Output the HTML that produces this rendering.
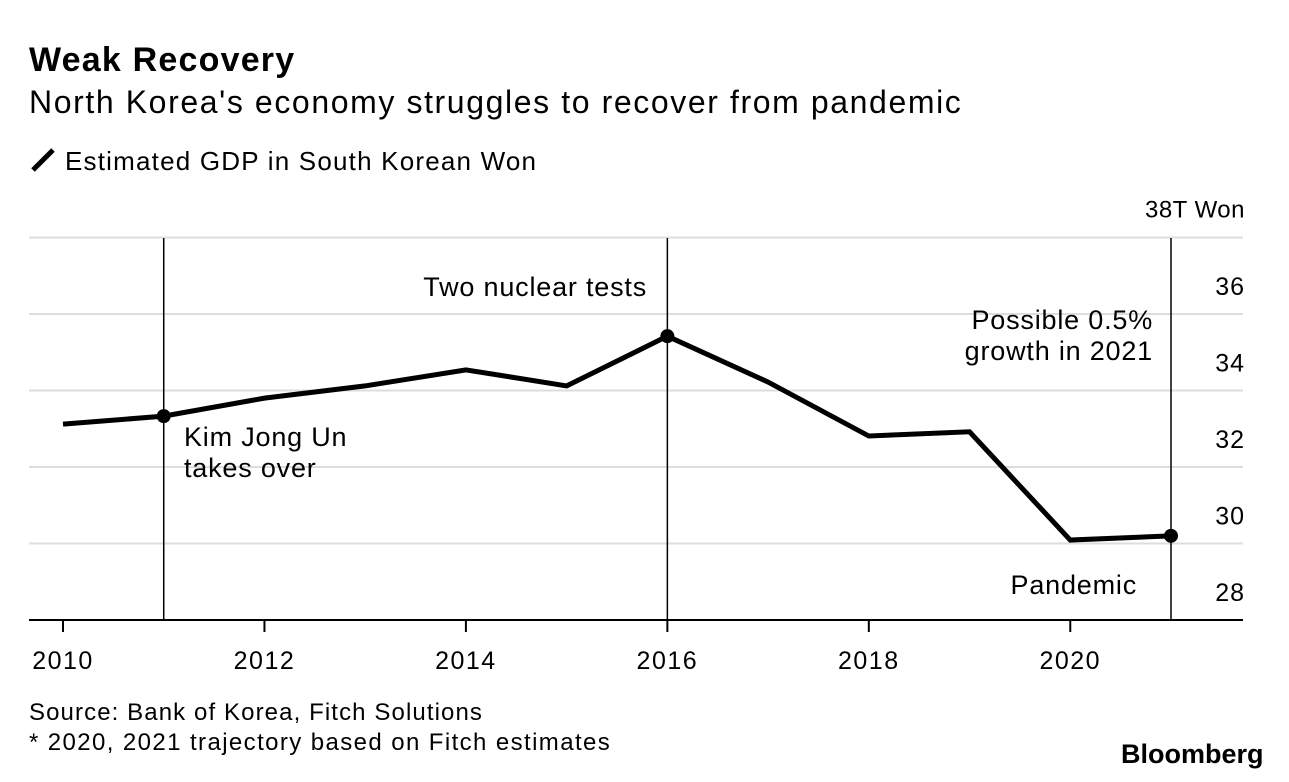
<!DOCTYPE html>
<html><head><meta charset="utf-8"><style>
body{margin:0;width:1289px;height:782px;background:#fff;font-family:"Liberation Sans",sans-serif;color:#000;overflow:hidden}
.t{position:absolute;white-space:nowrap}
</style></head><body>
<div class="t" style="left:29px;top:41px;font-size:34px;font-weight:bold;letter-spacing:1.2px">Weak Recovery</div>
<div class="t" style="left:29px;top:84px;font-size:32px;letter-spacing:1.6px">North Korea's economy struggles to recover from pandemic</div>
<div class="t" style="left:29px;top:146px;font-size:26px;letter-spacing:1.2px"><svg width="28" height="28" style="vertical-align:-4px;margin-right:8px"><line x1="4" y1="24" x2="24" y2="4" stroke="#000" stroke-width="5"/></svg>Estimated GDP in South Korean Won</div>
<svg id="c" width="1289" height="782" style="position:absolute;left:0;top:0"></svg>
<div class="t" style="left:29px;top:699px;font-size:24px;letter-spacing:1.1px">Source: Bank of Korea, Fitch Solutions</div>
<div class="t" style="left:29px;top:729px;font-size:24px;letter-spacing:1.4px">* 2020, 2021 trajectory based on Fitch estimates</div>
<div class="t" style="left:1121px;top:739px;font-size:27px;font-weight:bold;letter-spacing:0px">Bloomberg</div>
<script>
const years=[2010,2011,2012,2013,2014,2015,2016,2017,2018,2019,2020,2021];
const gdp=[33.12,33.33,33.8,34.12,34.54,34.12,35.42,34.22,32.81,32.92,30.09,30.2];
const yTicks=[28,30,32,34,36,38];
const xTicks=[2010,2012,2014,2016,2018,2020];
const markers=[2011,2016,2021];
const ns="http://www.w3.org/2000/svg",svg=document.getElementById('c');
const X=v=>63+(v-2010)*(1171-63)/11;
const Y=v=>620-(v-28)*38.25;
function el(t,a,txt){const e=document.createElementNS(ns,t);for(const k in a)e.setAttribute(k,a[k]);if(txt!=null)e.textContent=txt;svg.appendChild(e);return e;}
yTicks.forEach(v=>{
 if(v>28){const g=el('line',{x1:29,x2:1243,y1:Y(v),y2:Y(v),stroke:'#ddd','stroke-width':2});
 
 }
 if(v<38){const t=el('text',{x:1245,y:Y(v)-19,'text-anchor':'end','font-size':25,'letter-spacing':1},String(v));
 
 }
});
const u=el('text',{x:1245,y:Y(38)-20,'text-anchor':'end','font-size':24,'letter-spacing':0.5},'38T Won');


const ax=el('line',{x1:29,x2:1243,y1:620,y2:620,stroke:'#000','stroke-width':2});


xTicks.forEach(v=>{
 const tk=el('line',{x1:X(v),x2:X(v),y1:620,y2:632,stroke:'#000','stroke-width':2});
 
 
 const t=el('text',{x:X(v),y:669,'text-anchor':'middle','font-size':25,'letter-spacing':1.5},String(v));
 
 
});
markers.forEach(v=>{
 const l=el('line',{x1:X(v),x2:X(v),y1:238,y2:620,stroke:'#000','stroke-width':1.5});
 
 
});
const p=el('polyline',{points:years.map((y,i)=>X(y)+','+Y(gdp[i])).join(' '),fill:'none',stroke:'#000','stroke-width':5,'stroke-linejoin':'miter'});


markers.forEach(v=>{
 const i=years.indexOf(v);
 const c=el('circle',{cx:X(v),cy:Y(gdp[i]),r:7,fill:'#000'});
 
 
});
const anns=[[184,446,'start','Kim Jong Un'],[184,477,'start','takes over'],[647,296,'end','Two nuclear tests'],[1153,329,'end','Possible 0.5%'],[1153,360,'end','growth in 2021'],[1137,594,'end','Pandemic']];
anns.forEach(a=>{
 const t=el('text',{x:a[0],y:a[1],'text-anchor':a[2],'font-size':27,'letter-spacing':0.8},a[3]);
 
 
});
</script>
</body></html>
